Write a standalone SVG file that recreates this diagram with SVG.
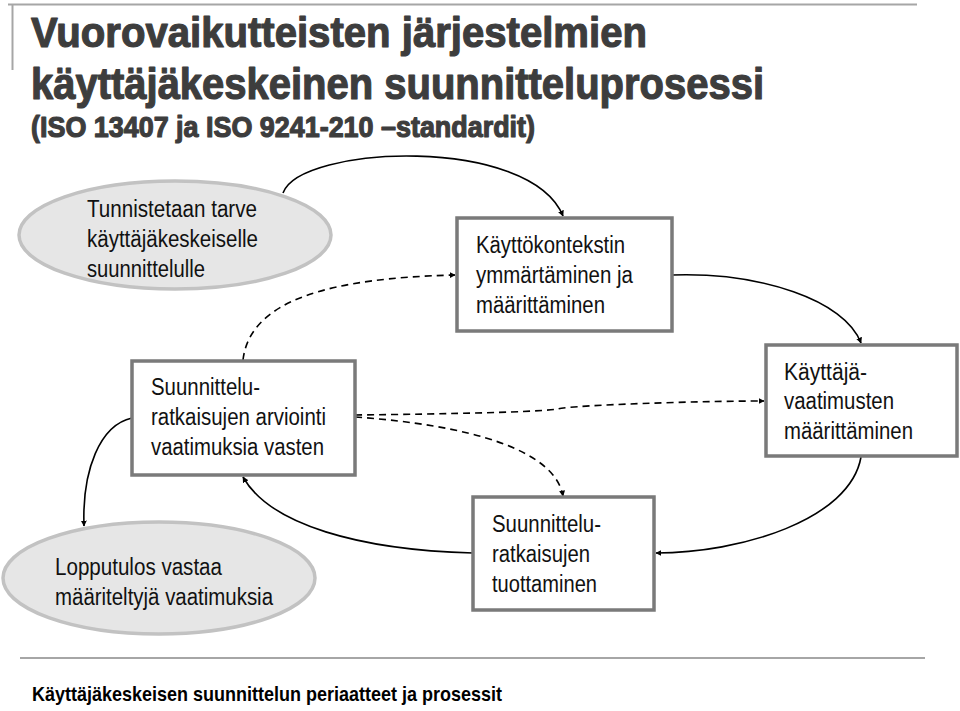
<svg xmlns="http://www.w3.org/2000/svg" width="960" height="711" viewBox="0 0 960 711">
<style>
.title{font-family:"Liberation Sans",Arial,sans-serif;font-weight:bold;fill:#3d3d3d;stroke:#3d3d3d;stroke-width:1.2;stroke-linejoin:round}
.lbl{font-family:"Liberation Sans Narrow","Liberation Sans",Arial,sans-serif;font-size:23px;fill:#111}
.ell{fill:#e6e6e6;stroke:#c2c2c2;stroke-width:3.5}
.box{fill:#fff;stroke:#7a7a7a;stroke-width:3.5}
.con{fill:none;stroke:#000;stroke-width:1.6}
.dash{stroke-dasharray:7 5}
.foot{font-family:"Liberation Sans",Arial,sans-serif;font-weight:bold;font-size:21px;fill:#000}
</style>
<defs>
<marker id="ah" viewBox="0 0 10 10" refX="9" refY="5" markerWidth="6" markerHeight="6" orient="auto" markerUnits="userSpaceOnUse">
<path d="M0,0 L10,5 L0,10 z" fill="#000"/>
</marker>
</defs>
<rect width="960" height="711" fill="#fff"/>
<g id="header">
<line x1="8" y1="4.5" x2="917" y2="4.5" stroke="#a6a6a6" stroke-width="2"/>
<line x1="12.5" y1="4" x2="12.5" y2="70" stroke="#a6a6a6" stroke-width="2"/>
<text class="title" x="31" y="47" font-size="43" textLength="616" lengthAdjust="spacingAndGlyphs">Vuorovaikutteisten järjestelmien</text>
<text class="title" x="31" y="99" font-size="44" textLength="733" lengthAdjust="spacingAndGlyphs">käyttäjäkeskeinen suunnitteluprosessi</text>
<text class="title" x="31" y="137" font-size="29" textLength="504" lengthAdjust="spacingAndGlyphs">(ISO 13407 ja ISO 9241-210 –standardit)</text>
</g>
<g id="connectors">
<path class="con" d="M283,193 C300,145 530,135 563,216" marker-end="url(#ah)"/>
<path class="con" d="M672,275 C760,272 845,300 861,343" marker-end="url(#ah)"/>
<path class="con" d="M861,457 C850,520 740,553 656,553" marker-end="url(#ah)"/>
<path class="con" d="M473,553 C360,550 270,525 243,477" marker-end="url(#ah)"/>
<path class="con" d="M132,418 C100,425 82,470 84,526" marker-end="url(#ah)"/>
<path class="con dash" d="M243,360 C250,300 330,278 455,275" marker-end="url(#ah)"/>
<path class="con dash" d="M355,415 C450,414 540,412 558,409 C572,405 700,401 764,401" marker-end="url(#ah)"/>
<path class="con dash" d="M355,417 C470,425 555,450 563,496" marker-end="url(#ah)"/>
</g>
<g id="n_tunnistetaan">
<ellipse class="ell" cx="175" cy="235" rx="156" ry="54"/>
<text class="lbl" x="87" y="217" textLength="170" lengthAdjust="spacingAndGlyphs">Tunnistetaan tarve</text>
<text class="lbl" x="87" y="247" textLength="171" lengthAdjust="spacingAndGlyphs">käyttäjäkeskeiselle</text>
<text class="lbl" x="87" y="277" textLength="118" lengthAdjust="spacingAndGlyphs">suunnittelulle</text>
</g>
<g id="n_kayttokonteksti">
<rect class="box" x="457" y="218" width="215" height="113"/>
<text class="lbl" x="476" y="253" textLength="149" lengthAdjust="spacingAndGlyphs">Käyttökontekstin</text>
<text class="lbl" x="476" y="283" textLength="157" lengthAdjust="spacingAndGlyphs">ymmärtäminen ja</text>
<text class="lbl" x="476" y="313" textLength="129" lengthAdjust="spacingAndGlyphs">määrittäminen</text>
</g>
<g id="n_vaatimukset">
<rect class="box" x="766" y="345" width="191" height="111"/>
<text class="lbl" x="784" y="380" textLength="83" lengthAdjust="spacingAndGlyphs">Käyttäjä-</text>
<text class="lbl" x="784" y="409" textLength="110" lengthAdjust="spacingAndGlyphs">vaatimusten</text>
<text class="lbl" x="784" y="439" textLength="129" lengthAdjust="spacingAndGlyphs">määrittäminen</text>
</g>
<g id="n_arviointi">
<rect class="box" x="132" y="361" width="223" height="114"/>
<text class="lbl" x="151" y="395" textLength="109" lengthAdjust="spacingAndGlyphs">Suunnittelu-</text>
<text class="lbl" x="151" y="425" textLength="175" lengthAdjust="spacingAndGlyphs">ratkaisujen arviointi</text>
<text class="lbl" x="151" y="455" textLength="173" lengthAdjust="spacingAndGlyphs">vaatimuksia vasten</text>
</g>
<g id="n_lopputulos">
<ellipse class="ell" cx="159" cy="578" rx="156" ry="56"/>
<text class="lbl" x="55" y="575" textLength="167" lengthAdjust="spacingAndGlyphs">Lopputulos vastaa</text>
<text class="lbl" x="55" y="605" textLength="218" lengthAdjust="spacingAndGlyphs">määriteltyjä vaatimuksia</text>
</g>
<g id="n_tuottaminen">
<rect class="box" x="473" y="497" width="181" height="113"/>
<text class="lbl" x="492" y="532" textLength="109" lengthAdjust="spacingAndGlyphs">Suunnittelu-</text>
<text class="lbl" x="492" y="562" textLength="98" lengthAdjust="spacingAndGlyphs">ratkaisujen</text>
<text class="lbl" x="492" y="592" textLength="105" lengthAdjust="spacingAndGlyphs">tuottaminen</text>
</g>
<g id="footer">
<line x1="20" y1="658" x2="925" y2="658" stroke="#a6a6a6" stroke-width="2"/>
<text class="foot" x="32" y="701" textLength="470" lengthAdjust="spacingAndGlyphs">Käyttäjäkeskeisen suunnittelun periaatteet ja prosessit</text>
</g>
</svg>
